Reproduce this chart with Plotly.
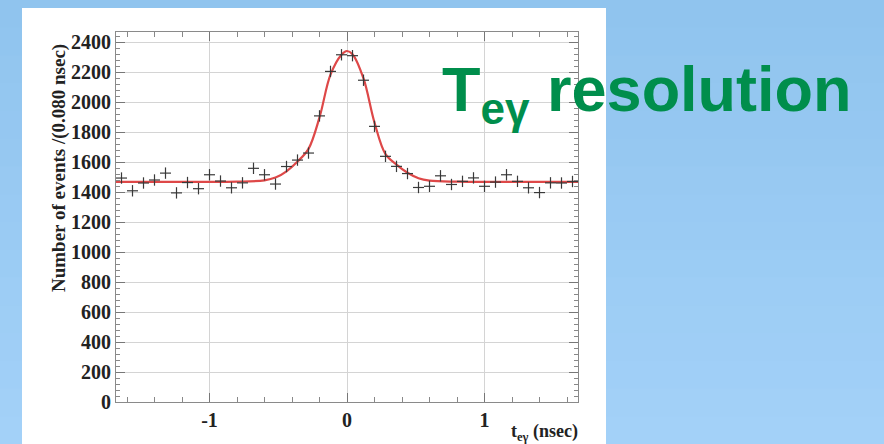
import plotly.graph_objects as go

# ---- data ----
bin_centers = [-1.64, -1.56, -1.48, -1.40, -1.32, -1.24, -1.16, -1.08, -1.00, -0.92,
               -0.84, -0.76, -0.68, -0.60, -0.52, -0.44, -0.36, -0.28, -0.20, -0.12,
               -0.04, 0.04, 0.12, 0.20, 0.28, 0.36, 0.44, 0.52, 0.60, 0.68,
               0.76, 0.84, 0.92, 1.00, 1.08, 1.16, 1.24, 1.32, 1.40, 1.48,
               1.56, 1.64]
counts = [1495, 1410, 1462, 1482, 1528, 1396, 1465, 1424, 1517, 1475,
          1430, 1463, 1560, 1517, 1455, 1572, 1615, 1662, 1910, 2207,
          2318, 2312, 2148, 1840, 1640, 1573, 1525, 1432, 1440, 1510,
          1452, 1473, 1496, 1440, 1468, 1517, 1473, 1430, 1398, 1463,
          1462, 1472]
count_err = 38          # vertical error bar half-length (counts)
bin_half_width = 0.04   # half of 0.080 nsec

fit_x = [-1.68, -1.20, -0.80, -0.60, -0.52, -0.44, -0.36, -0.28, -0.20, -0.12,
         -0.04, 0.00, 0.04, 0.12, 0.20, 0.28, 0.36, 0.44, 0.52, 0.60,
         0.80, 1.20, 1.68]
fit_y = [1470, 1470, 1471, 1480, 1498, 1540, 1605, 1690, 1900, 2185,
         2318, 2343, 2322, 2160, 1865, 1655, 1585, 1530, 1494, 1478,
         1471, 1470, 1470]

y_ticks = [0, 200, 400, 600, 800, 1000, 1200, 1400, 1600, 1800, 2000, 2200, 2400]
x_ticks = [-1, 0, 1]
x_tick_text = ["-1", "0", "1"]

W, H = 884, 444
L, R, T, B = 116, 578, 32, 402

def px(xp):
    return (xp - L) / (R - L)

def py(yp):
    return (B - yp) / (B - T)

fig = go.Figure()

fig.add_trace(go.Scatter(
    x=fit_x, y=fit_y, mode="lines", line=dict(color="rgb(222,72,72)", width=2.2, shape="spline"),
    hoverinfo="skip", showlegend=False))

fig.add_trace(go.Scatter(
    x=bin_centers, y=counts, mode="markers", marker=dict(size=1, color="#333"),
    error_x=dict(type="constant", value=bin_half_width, width=0, color="#3a3a3a", thickness=1.2),
    error_y=dict(type="constant", value=count_err, width=0, color="#3a3a3a", thickness=1.2),
    showlegend=False))

shapes = []
# background gradient bands
top_c = (144, 196, 238)
bot_c = (163, 209, 248)
nb = 16
for i in range(nb):
    f = i / (nb - 1)
    c = tuple(int(round(top_c[k] + (bot_c[k] - top_c[k]) * f)) for k in range(3))
    y0 = H * i / nb
    y1 = H * (i + 1) / nb
    shapes.append(dict(type="rect", xref="paper", yref="paper",
                       x0=px(0), x1=px(W), y0=py(y1 + 0.5), y1=py(y0),
                       fillcolor="rgb(%d,%d,%d)" % c, line=dict(width=0), layer="below"))
# white panel
shapes.append(dict(type="rect", xref="paper", yref="paper",
                   x0=px(22), x1=px(606), y0=py(H + 2), y1=py(8),
                   fillcolor="white", line=dict(width=0), layer="below"))

tick_font = dict(family="Liberation Serif", size=20, color="#222", weight="bold")

fig.update_layout(
    width=W, height=H,
    margin=dict(l=L, r=W - R, t=T, b=H - B),
    paper_bgcolor="rgb(150,200,242)",
    plot_bgcolor="rgba(0,0,0,0)",
    shapes=shapes,
    xaxis=dict(range=[-1.68, 1.68], tickvals=x_ticks, ticktext=x_tick_text,
               showgrid=True, gridcolor="#d4d4d4", gridwidth=1,
               showline=True, linecolor="#8a8a8a", linewidth=1.2, mirror="ticks",
               ticks="inside", ticklen=9, tickcolor="#777",
               minor=dict(dtick=0.2, tick0=0, ticks="inside", ticklen=5, tickcolor="#888", showgrid=False),
               tickfont=tick_font, zeroline=False),
    yaxis=dict(range=[0, 2470], tickvals=y_ticks,
               showgrid=True, gridcolor="#d4d4d4", gridwidth=1,
               showline=True, linecolor="#8a8a8a", linewidth=1.2, mirror="ticks",
               ticks="inside", ticklen=9, tickcolor="#777",
               minor=dict(dtick=40, tick0=0, ticks="inside", ticklen=4, tickcolor="#888", showgrid=False),
               tickfont=tick_font, zeroline=False),
    annotations=[
        dict(text="Number of events /(0.080 nsec)", xref="paper", yref="paper",
             x=px(46), y=py(168), textangle=-90, showarrow=False,
             font=dict(family="Liberation Serif", size=19, color="#222", weight="bold")),
        dict(text="t<sub>eγ</sub> (nsec)", xref="paper", yref="paper",
             x=px(580), y=py(419), xanchor="right", yanchor="top", showarrow=False,
             font=dict(family="Liberation Serif", size=18, color="#222", weight="bold")),
        dict(text="T<sub>eγ</sub> resolution", xref="paper", yref="paper",
             x=px(440), y=py(93), xanchor="left", yanchor="middle", showarrow=False,
             font=dict(family="Liberation Sans", size=63, color="rgb(0,142,76)", weight="bold")),
    ],
)

fig.write_html("out.html", config={"displayModeBar": False},
               post_script="document.body.style.margin='0';document.body.style.padding='0';document.body.style.overflow='hidden';")
